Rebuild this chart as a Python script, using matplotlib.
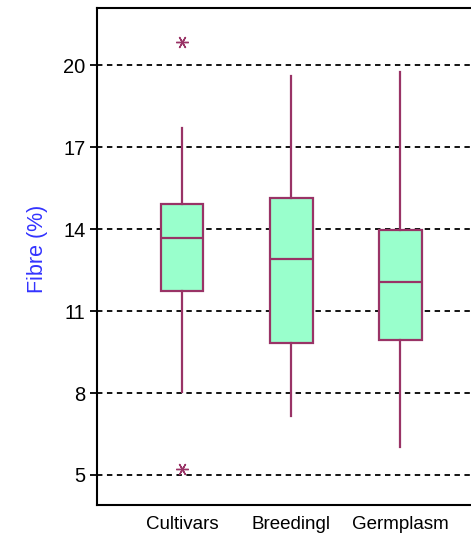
import matplotlib.pyplot as plt

# Fibre content (%) summary per group
groups = ['Cultivars', 'Breedingl', 'Germplasm']
whisker_lo = [8.02, 7.17, 6.01]
q1 = [11.75, 9.82, 9.93]
median = [13.67, 12.91, 12.07]
q3 = [14.94, 15.15, 13.96]
whisker_hi = [17.7, 19.62, 19.74]
outliers = [[20.87, 5.21], [], []]

yticks = [5, 8, 11, 14, 17, 20]

edge = '#993366'
fill = '#99ffcc'
plt.rcParams['font.family'] = ['Liberation Sans', 'DejaVu Sans']

fig = plt.figure(figsize=(4.71, 5.36), dpi=100)
ax = fig.add_axes([96.5 / 471, 31 / 536, 390 / 471, 497 / 536])

stats = []
for i, g in enumerate(groups):
    stats.append(dict(label=g, whislo=whisker_lo[i], q1=q1[i], med=median[i],
                      q3=q3[i], whishi=whisker_hi[i], fliers=outliers[i]))

ax.bxp(stats, positions=[1, 2, 3], widths=0.39, patch_artist=True,
       showcaps=False,
       boxprops=dict(facecolor=fill, edgecolor=edge, linewidth=1.6),
       medianprops=dict(color=edge, linewidth=1.6),
       whiskerprops=dict(color=edge, linewidth=1.6),
       flierprops=dict(marker=(6, 2, 90), markeredgecolor=edge,
                       markerfacecolor=edge, markersize=9, markeredgewidth=1.0))

ax.set_xlim(0.215, 3.79)
ax.set_ylim(3.9, 22.1)
ax.set_yticks(yticks)
ax.set_yticklabels([str(t) for t in yticks])
ax.yaxis.grid(True, linestyle=(0, (3, 2.5)), color='black', linewidth=1.3)
ax.set_axisbelow(True)

ax.tick_params(axis='y', length=5, width=1.3, labelsize=14.5, pad=3)
ax.tick_params(axis='x', length=0, labelsize=13.5, pad=8)

for side in ['left', 'bottom', 'top']:
    ax.spines[side].set_linewidth(1.5)
ax.spines['right'].set_visible(False)

ax.set_ylabel('Fibre (%)', color='#3333ff', fontsize=15.5)
ax.yaxis.set_label_coords(-0.124, 0.515)

fig.savefig('out.png', dpi=100)
